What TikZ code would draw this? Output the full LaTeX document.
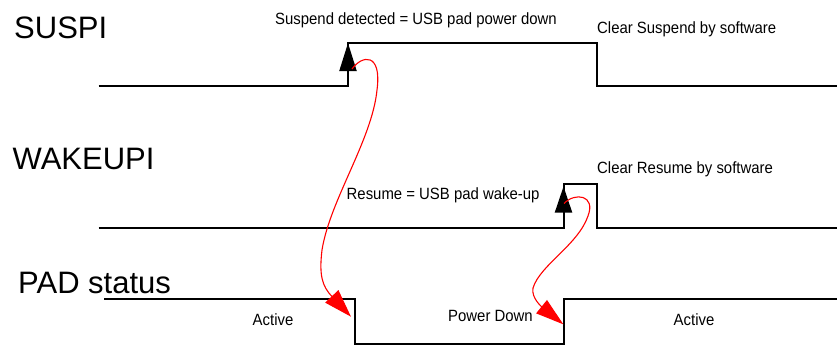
\documentclass[tikz,border=0pt]{standalone}
\usepackage{fontspec}
\setmainfont{Liberation Sans}
\newfontfamily\narrowfont[FakeStretch=0.915]{Liberation Sans}
\usetikzlibrary{arrows.meta}
\begin{document}
\begin{tikzpicture}[x=1pt,y=-1pt,
  biglabel/.style={anchor=base west,inner sep=0pt,font=\fontsize{31}{36}\selectfont},
  smalllabel/.style={anchor=base west,inner sep=0pt,font=\narrowfont\fontsize{16.3}{19}\selectfont},
  wave/.style={line width=2pt,line join=miter},
  uparrow/.style={line width=2pt,-{Triangle[length=28pt,width=17pt]}},
  redarrow/.style={red,line width=1.1pt,-{Triangle[length=28pt,width=18pt]}}]
\useasboundingbox (0,0) rectangle (837,345);
% labels
\node[biglabel] (suspi) at (14,38.5) {SUSPI};
\node[biglabel] (wakeupi) at (12.5,169) {WAKEUPI};
\node[biglabel] (pad) at (18,293) {PAD status};
\node[smalllabel] (susdet) at (275,24.5) {Suspend detected = USB pad power down};
\node[smalllabel] (clrsus) at (597,33.5) {Clear Suspend by software};
\node[smalllabel] (clrres) at (597,173) {Clear Resume by software};
\node[smalllabel] (resume) at (346.5,199) {Resume = USB pad wake-up};
\node[smalllabel] (act1) at (252.5,325) {Active};
\node[smalllabel] (pwrdn) at (448,321.7) {Power Down};
\node[smalllabel] (act2) at (673.5,325) {Active};
% waveforms
\draw[wave] (98.5,85.5) -- (348,85.5) -- (348,43) -- (596.5,43) -- (596.5,85.5) -- (837,85.5);
\draw[wave] (98.5,228) -- (563.5,228) -- (563.5,184) -- (596.5,184) -- (596.5,228) -- (837,228);
\draw[wave] (104,299) -- (354.5,299) -- (354.5,343.5) -- (564.3,343.5) -- (564.3,299) -- (837,299);
% black edge arrows
\coordinate (s0) at (348,85.5);
\coordinate (s1) at (348,43);
\coordinate (w0) at (563.5,228);
\coordinate (w1) at (563.5,186.5);
\draw[uparrow] (s0) -- (s1);
\draw[uparrow,-{Triangle[length=26pt,width=17pt]}] (w0) -- (w1);
% red cause arrows
\coordinate (r1s) at (352,69);
\coordinate (r1e) at (351,316.7);
\coordinate (r2s) at (564,203.5);
\coordinate (r2e) at (563.3,324.3);
\draw[redarrow] (r1s) .. controls (362,55) and (382,52) .. (377,90)
  .. controls (372,140) and (330,200) .. (322,250)
  .. controls (319,275) and (322,286) .. (r1e);
\draw[redarrow,-{Triangle[length=28pt,width=17pt]}] (r2s) .. controls (575,192) and (596,195) .. (588,216)
  .. controls (578,245) and (540,265) .. (533,288)
  .. controls (531,298) and (542,307) .. (r2e);
\end{tikzpicture}
\end{document}
